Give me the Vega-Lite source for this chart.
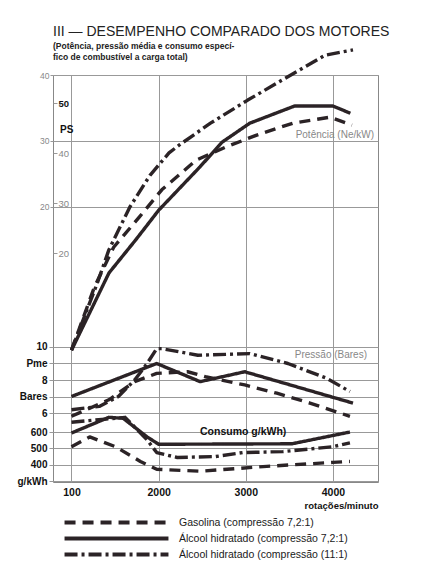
{
  "$schema": "https://vega.github.io/schema/vega-lite/v6.json",
  "width": 325,
  "height": 407,
  "autosize": "none",
  "padding": {"left": 53, "top": 75, "right": 53, "bottom": 89},
  "background": "white",
  "title": {
    "text": "III — DESEMPENHO COMPARADO DOS MOTORES",
    "subtitle": ["(Potência, pressão média e consumo especí-", "fico de combustível a carga total)"],
    "anchor": "start",
    "frame": "group",
    "font": "Liberation Sans",
    "fontSize": 14,
    "fontWeight": "normal",
    "color": "#222",
    "subtitleFont": "Liberation Sans",
    "subtitleFontSize": 8.5,
    "subtitleFontWeight": "bold",
    "subtitleColor": "#222",
    "subtitlePadding": 3,
    "subtitleLineHeight": 11,
    "offset": -13
  },
  "config": {
    "font": "Liberation Sans",
    "view": {"stroke": "#888", "strokeWidth": 1},
    "axis": {"domain": false, "gridColor": "#999", "gridWidth": 1, "tickColor": "#999", "labelFont": "Liberation Sans", "titleFont": "Liberation Sans"}
  },
  "datasets": {
    "curves": [
      {"q": "P", "f": "G", "rpm": 1000, "v": -1.7},
      {"q": "P", "f": "G", "rpm": 1264, "v": 7.9},
      {"q": "P", "f": "G", "rpm": 1484, "v": 13.9},
      {"q": "P", "f": "G", "rpm": 1780, "v": 18.5},
      {"q": "P", "f": "G", "rpm": 2036, "v": 22.6},
      {"q": "P", "f": "G", "rpm": 2430, "v": 27.1},
      {"q": "P", "f": "G", "rpm": 2774, "v": 29.1},
      {"q": "P", "f": "G", "rpm": 3126, "v": 30.9},
      {"q": "P", "f": "G", "rpm": 3540, "v": 32.7},
      {"q": "P", "f": "G", "rpm": 3966, "v": 33.6},
      {"q": "P", "f": "G", "rpm": 4218, "v": 32.4},
      {"q": "P", "f": "A7", "rpm": 1000, "v": -1.7},
      {"q": "P", "f": "A7", "rpm": 1430, "v": 10.0},
      {"q": "P", "f": "A7", "rpm": 1736, "v": 15.0},
      {"q": "P", "f": "A7", "rpm": 2000, "v": 19.5},
      {"q": "P", "f": "A7", "rpm": 2476, "v": 26.1},
      {"q": "P", "f": "A7", "rpm": 2726, "v": 29.8},
      {"q": "P", "f": "A7", "rpm": 3046, "v": 32.7},
      {"q": "P", "f": "A7", "rpm": 3560, "v": 35.3},
      {"q": "P", "f": "A7", "rpm": 4000, "v": 35.3},
      {"q": "P", "f": "A7", "rpm": 4200, "v": 34.2},
      {"q": "P", "f": "A11", "rpm": 1000, "v": -1.7},
      {"q": "P", "f": "A11", "rpm": 1297, "v": 8.5},
      {"q": "P", "f": "A11", "rpm": 1429, "v": 13.5},
      {"q": "P", "f": "A11", "rpm": 1670, "v": 20.0},
      {"q": "P", "f": "A11", "rpm": 1901, "v": 24.8},
      {"q": "P", "f": "A11", "rpm": 2119, "v": 28.2},
      {"q": "P", "f": "A11", "rpm": 2238, "v": 29.4},
      {"q": "P", "f": "A11", "rpm": 2595, "v": 32.7},
      {"q": "P", "f": "A11", "rpm": 3023, "v": 36.2},
      {"q": "P", "f": "A11", "rpm": 3414, "v": 39.2},
      {"q": "P", "f": "A11", "rpm": 3908, "v": 43.0},
      {"q": "P", "f": "A11", "rpm": 4230, "v": 43.8},
      {"q": "B", "f": "G", "rpm": 1000, "v": 5.8},
      {"q": "B", "f": "G", "rpm": 1429, "v": 6.8},
      {"q": "B", "f": "G", "rpm": 1725, "v": 7.9},
      {"q": "B", "f": "G", "rpm": 1978, "v": 8.4},
      {"q": "B", "f": "G", "rpm": 2333, "v": 8.5},
      {"q": "B", "f": "G", "rpm": 2536, "v": 8.2},
      {"q": "B", "f": "G", "rpm": 2988, "v": 7.7},
      {"q": "B", "f": "G", "rpm": 3356, "v": 7.2},
      {"q": "B", "f": "G", "rpm": 3736, "v": 6.6},
      {"q": "B", "f": "G", "rpm": 4195, "v": 5.8},
      {"q": "B", "f": "A7", "rpm": 1000, "v": 7.0},
      {"q": "B", "f": "A7", "rpm": 1978, "v": 9.0},
      {"q": "B", "f": "A7", "rpm": 2476, "v": 7.9},
      {"q": "B", "f": "A7", "rpm": 2988, "v": 8.5},
      {"q": "B", "f": "A7", "rpm": 4230, "v": 6.6},
      {"q": "B", "f": "A11", "rpm": 1000, "v": 6.2},
      {"q": "B", "f": "A11", "rpm": 1319, "v": 6.4},
      {"q": "B", "f": "A11", "rpm": 1538, "v": 7.0},
      {"q": "B", "f": "A11", "rpm": 1725, "v": 8.0},
      {"q": "B", "f": "A11", "rpm": 1868, "v": 9.0},
      {"q": "B", "f": "A11", "rpm": 1978, "v": 9.9},
      {"q": "B", "f": "A11", "rpm": 2036, "v": 9.9},
      {"q": "B", "f": "A11", "rpm": 2450, "v": 9.5},
      {"q": "B", "f": "A11", "rpm": 3046, "v": 9.6},
      {"q": "B", "f": "A11", "rpm": 3483, "v": 9.0},
      {"q": "B", "f": "A11", "rpm": 3931, "v": 8.1},
      {"q": "B", "f": "A11", "rpm": 4195, "v": 7.3},
      {"q": "C", "f": "G", "rpm": 1000, "v": 510},
      {"q": "C", "f": "G", "rpm": 1209, "v": 570},
      {"q": "C", "f": "G", "rpm": 1505, "v": 510},
      {"q": "C", "f": "G", "rpm": 1791, "v": 420},
      {"q": "C", "f": "G", "rpm": 1978, "v": 372},
      {"q": "C", "f": "G", "rpm": 2476, "v": 360},
      {"q": "C", "f": "G", "rpm": 3241, "v": 390},
      {"q": "C", "f": "G", "rpm": 4000, "v": 414},
      {"q": "C", "f": "G", "rpm": 4195, "v": 420},
      {"q": "C", "f": "A7", "rpm": 1000, "v": 594},
      {"q": "C", "f": "A7", "rpm": 1429, "v": 690},
      {"q": "C", "f": "A7", "rpm": 1593, "v": 684},
      {"q": "C", "f": "A7", "rpm": 1868, "v": 570},
      {"q": "C", "f": "A7", "rpm": 2000, "v": 525},
      {"q": "C", "f": "A7", "rpm": 3530, "v": 528},
      {"q": "C", "f": "A7", "rpm": 4195, "v": 600},
      {"q": "C", "f": "A11", "rpm": 1000, "v": 660},
      {"q": "C", "f": "A11", "rpm": 1615, "v": 690},
      {"q": "C", "f": "A11", "rpm": 1868, "v": 552},
      {"q": "C", "f": "A11", "rpm": 1978, "v": 474},
      {"q": "C", "f": "A11", "rpm": 2214, "v": 444},
      {"q": "C", "f": "A11", "rpm": 2655, "v": 450},
      {"q": "C", "f": "A11", "rpm": 2964, "v": 474},
      {"q": "C", "f": "A11", "rpm": 3425, "v": 480},
      {"q": "C", "f": "A11", "rpm": 4000, "v": 510},
      {"q": "C", "f": "A11", "rpm": 4195, "v": 534}
    ]
  },
  "resolve": {"scale": {"y": "independent"}},
  "layer": [
    {
      "layer": [
        {
          "data": {"name": "curves"},
          "transform": [{"filter": "datum.q == 'P'"}],
          "mark": {"type": "line", "stroke": "#2b2326", "strokeWidth": 3.4, "strokeJoin": "round"},
          "encoding": {
            "x": {"field": "rpm", "type": "quantitative", "scale": {"domain": [788, 4517], "nice": false},
              "axis": {"values": [1000, 2000, 3000, 4000], "labelExpr": "datum.value == 1000 ? '100' : format(datum.value, 'd')", "grid": true, "ticks": false, "labelPadding": 5, "labelFontSize": 10.5, "labelFontWeight": "bold", "labelColor": "#111", "title": "rotações/minuto", "titleFontSize": 9.5, "titleFontWeight": "bold", "titleColor": "#111", "titleAnchor": "end", "titlePadding": 3}},
            "y": {"field": "v", "type": "quantitative", "scale": {"domain": [-21.67, 40], "nice": false},
              "axis": {"orient": "left", "values": [40, 30, 20], "title": null, "grid": true, "tickSize": 3, "labelPadding": 1, "labelFontSize": 8.5, "labelColor": "#888"}},
            "strokeDash": {"field": "f", "type": "nominal",
              "scale": {"domain": ["G", "A7", "A11"], "range": [[11, 7], [1, 0], [13, 4, 3, 4]]},
              "legend": {"title": null, "orient": "none", "legendX": 56, "legendY": 440, "symbolType": "M-10,0H10", "symbolSize": 108, "symbolStrokeWidth": 4, "symbolStrokeColor": "#2b2326", "symbolFillColor": "transparent", "labelFont": "Liberation Sans", "labelFontSize": 10.5, "labelColor": "#1a1a1a", "labelOffset": 55, "rowPadding": -2, "padding": 0, "labelLimit": 400,
                "labelExpr": "datum.value == 'G' ? 'Gasolina (compressão 7,2:1)' : datum.value == 'A7' ? 'Álcool hidratado (compressão 7,2:1)' : 'Álcool hidratado (compressão (11:1)'"}}
          }
        },
        {
          "data": {"values": [{"t": "Potência (Ne/kW)", "rpm": 4471, "v": 30.2}]},
          "mark": {"type": "text", "align": "right", "baseline": "bottom", "fontSize": 10, "letterSpacing": 1, "color": "#888", "font": "Liberation Sans"},
          "encoding": {
            "x": {"field": "rpm", "type": "quantitative", "scale": {"domain": [788, 4517], "nice": false}},
            "y": {"field": "v", "type": "quantitative"},
            "text": {"field": "t"}
          }
        }
      ]
    },
    {
      "data": {"values": [{"t": "PS", "rpm": 869, "ps": 44.6}]},
      "mark": {"type": "text", "align": "left", "baseline": "middle", "fontSize": 10, "fontWeight": "bold", "color": "#111", "font": "Liberation Sans"},
      "encoding": {
        "x": {"field": "rpm", "type": "quantitative", "scale": {"domain": [788, 4517], "nice": false}},
        "y": {"field": "ps", "type": "quantitative", "scale": {"domain": [-25.6, 55.6], "nice": false},
          "axis": {"orient": "right", "offset": -325, "values": [50, 40, 30, 20], "title": null, "grid": false, "tickSize": 4, "labelPadding": 1, "labelFontSize": 9.5,
            "labelColor": {"condition": {"test": "datum.value == 50", "value": "#111"}, "value": "#888"},
            "labelFontWeight": {"condition": {"test": "datum.value == 50", "value": "bold"}, "value": "normal"}}},
        "text": {"field": "t"}
      }
    },
    {
      "layer": [
        {
          "data": {"name": "curves"},
          "transform": [{"filter": "datum.q == 'B'"}],
          "mark": {"type": "line", "stroke": "#2b2326", "strokeWidth": 3.4, "strokeJoin": "round"},
          "encoding": {
            "x": {"field": "rpm", "type": "quantitative", "scale": {"domain": [788, 4517], "nice": false}},
            "y": {"field": "v", "type": "quantitative", "scale": {"domain": [1.82, 26.48], "nice": false},
              "axis": {"orient": "left", "values": [10, 9, 8, 7, 6], "title": null, "grid": true, "tickSize": 4, "labelPadding": 2, "labelFontSize": 10, "labelFontWeight": "bold", "labelColor": "#111",
                "labelExpr": "datum.value == 9 ? 'Pme' : datum.value == 7 ? 'Bares' : datum.label"}},
            "strokeDash": {"field": "f", "type": "nominal"}
          }
        },
        {
          "data": {"values": [{"t": "Pressão (Bares)", "rpm": 4391, "v": 9.52}]},
          "mark": {"type": "text", "align": "right", "baseline": "middle", "fontSize": 10, "letterSpacing": 0.5, "color": "#888", "font": "Liberation Sans"},
          "encoding": {
            "x": {"field": "rpm", "type": "quantitative", "scale": {"domain": [788, 4517], "nice": false}},
            "y": {"field": "v", "type": "quantitative"},
            "text": {"field": "t"}
          }
        }
      ]
    },
    {
      "layer": [
        {
          "data": {"name": "curves"},
          "transform": [{"filter": "datum.q == 'C'"}],
          "mark": {"type": "line", "stroke": "#2b2326", "strokeWidth": 3.4, "strokeJoin": "round"},
          "encoding": {
            "x": {"field": "rpm", "type": "quantitative", "scale": {"domain": [788, 4517], "nice": false}},
            "y": {"field": "v", "type": "quantitative", "scale": {"domain": [294, 2786], "nice": false},
              "axis": {"orient": "left", "values": [600, 500, 400, 300], "title": null, "grid": true, "tickSize": 4, "labelPadding": 2, "labelFontSize": 10, "labelFontWeight": "bold", "labelColor": "#111",
                "labelExpr": "datum.value == 300 ? 'g/kWh' : datum.label"}},
            "strokeDash": {"field": "f", "type": "nominal"}
          }
        },
        {
          "data": {"values": [{"t": "Consumo g/kWh)", "rpm": 2475, "v": 600}]},
          "mark": {"type": "text", "align": "left", "baseline": "middle", "fontSize": 10.5, "fontWeight": "bold", "color": "#111", "font": "Liberation Sans"},
          "encoding": {
            "x": {"field": "rpm", "type": "quantitative", "scale": {"domain": [788, 4517], "nice": false}},
            "y": {"field": "v", "type": "quantitative"},
            "text": {"field": "t"}
          }
        }
      ]
    }
  ]
}
